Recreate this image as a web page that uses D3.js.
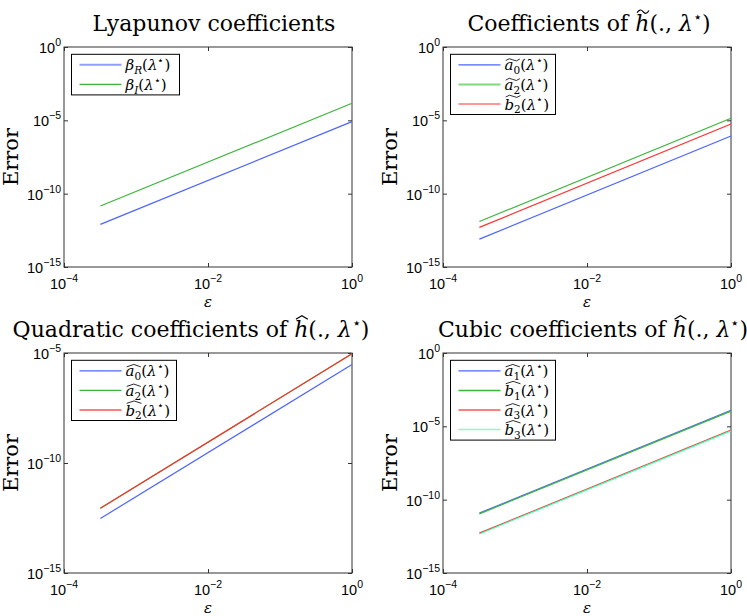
<!DOCTYPE html>
<html><head><meta charset="utf-8">
<script src="https://cdn.jsdelivr.net/npm/d3@7"></script>
<style>body{margin:0;background:#fff} svg{display:block}</style>
</head><body>
<svg id="c" width="747" height="616"></svg>
<script>
// ---------- data ----------
const epsRange   = [3.2e-4, 1];            // first / last epsilon of every curve
const xTicks     = [1e-4, 1e-2, 1e0];
const xTickExp   = ["−4", "−2", "0"];
const yTicksFull = [1e-15, 1e-10, 1e-5, 1e0];
const yTicksFullExp = ["−15", "−10", "−5", "0"];
const yTicksQuad = [1e-15, 1e-10, 1e-5];
const yTicksQuadExp = ["−15", "−10", "−5"];

const lyapBetaR = [8.1e-13, 8.1e-6];
const lyapBetaI = [1.45e-11, 1.45e-4];

const tildeA0 = [8.0e-14, 8.5e-7];
const tildeA2 = [1.26e-12, 1.38e-5];
const tildeB2 = [5.0e-13, 5.6e-6];

const quadA0 = [3.0e-13, 3.0e-6];
const quadA2 = [8.7e-13, 9.3e-6];
const quadB2 = [8.7e-13, 9.3e-6];

const cubicA1 = [1.22e-11, 1.26e-4];
const cubicB1 = [1.07e-11, 1.09e-4];
const cubicA3 = [5.2e-13, 5.5e-6];
const cubicB3 = [4.6e-13, 4.9e-6];

const C_BLUE = "#4c64ff", C_GREEN = "#3cb43c", C_RED = "#ff3030", C_CYAN = "#40ffb0";
const C_LBLUE = "#8f9fff", C_LGREEN = "#7fd97f", C_LRED = "#ff7f7f", C_LCYAN = "#80ffc8";

// ---------- helpers ----------
const svg = d3.select("#c");
const SERIF = "'DejaVu Serif', serif";
const SANS = "'Liberation Sans', Arial, sans-serif";

// rich text: segments {t, i(italic), sub, sup, acc, span, tall}
function rich(g, x, y, segs, fs, anchor) {
  const txt = g.append("text").attr("x", x).attr("y", y)
    .attr("font-family", SERIF).attr("font-size", fs)
    .attr("text-anchor", anchor).attr("fill", "#000");
  let cur = 0;
  segs.forEach(s => {
    const shift = s.sub ? fs * 0.25 : s.sup ? -fs * 0.42 : 0;
    const ts = txt.append("tspan").text(s.t)
      .attr("font-style", s.i ? "italic" : "normal")
      .attr("font-size", (s.sub || s.sup) ? fs * 0.7 : fs);
    if (shift - cur !== 0) ts.attr("dy", shift - cur);
    cur = shift;
  });
  const node = txt.node();
  let idx = 0;
  const starts = segs.map(s => { const v = idx; idx += s.t.length; return v; });
  segs.forEach((s, k) => {
    if (!s.acc) return;
    const last = k + (s.span || 1) - 1;
    const c0 = starts[k], c1 = starts[last] + segs[last].t.length - 1;
    let x0 = node.getStartPositionOfChar(c0).x, x1 = node.getEndPositionOfChar(c1).x;
    x0 += fs * 0.08; x1 -= fs * 0.02;
    const ay = y - fs * (s.tall ? 0.88 : 0.7);
    const w = x1 - x0, m = x0 + w / 2;
    const d = s.acc === "tilde"
      ? `M${x0},${ay + fs*0.05} Q${x0 + w*0.25},${ay - fs*0.17} ${m},${ay} T${x1},${ay - fs*0.05}`
      : `M${x0},${ay + fs*0.07} L${m},${ay - fs*0.09} L${x1},${ay + fs*0.07}`;
    g.append("path").attr("d", d).attr("fill", "none").attr("stroke", "#000")
      .attr("stroke-width", fs * 0.055);
  });
  return txt;
}
const lam = [{t:"(., "}, {t:"λ", i:1}, {t:"⋆", sup:1}, {t:")"}];
const lamL = [{t:"("}, {t:"λ", i:1}, {t:"⋆", sup:1}, {t:")"}];
const lbl = (base, sub, acc) => [{t:base, i:1, acc:acc, span:2, tall: base === "b"}, {t:sub, sub:1}].concat(lamL);

const panels = [
  { left:64, top:47, yMax:1e0, yTicks:yTicksFull, yExp:yTicksFullExp,
    title:[{t:"Lyapunov coefficients"}], titleX:214, legendW:108,
    series:[
      {v:lyapBetaR, c:C_BLUE, lc:C_LBLUE, lw:2, label:[{t:"β", i:1},{t:"R", sub:1, i:1}].concat(lamL)},
      {v:lyapBetaI, c:C_GREEN, lc:C_GREEN, lw:1.2, label:[{t:"β", i:1},{t:"I", sub:1, i:1}].concat(lamL)}
    ]},
  { left:443, top:47, yMax:1e0, yTicks:yTicksFull, yExp:yTicksFullExp,
    title:[{t:"Coefficients of "},{t:"h", i:1, acc:"tilde", tall:1}].concat(lam), titleX:589, legendW:105,
    series:[
      {v:tildeA0, c:C_BLUE, lc:C_BLUE, lw:1.2, label:lbl("a","0","tilde")},
      {v:tildeA2, c:C_GREEN, lc:C_LGREEN, lw:2, label:lbl("a","2","tilde")},
      {v:tildeB2, c:C_RED, lc:C_RED, lw:1.2, label:lbl("b","2","tilde")}
    ]},
  { left:64, top:353, yMax:1e-5, yTicks:yTicksQuad, yExp:yTicksQuadExp,
    title:[{t:"Quadratic coefficients of "},{t:"h", i:1, acc:"hat", tall:1}].concat(lam), titleX:191, legendW:105,
    series:[
      {v:quadA0, c:C_BLUE, lc:C_BLUE, lw:1.2, label:lbl("a","0","hat")},
      {v:quadA2, c:C_GREEN, lc:C_GREEN, lw:1.2, label:lbl("a","2","hat")},
      {v:quadB2, c:C_RED, lc:C_LRED, lw:2, label:lbl("b","2","hat")}
    ]},
  { left:443, top:353, yMax:1e0, yTicks:yTicksFull, yExp:yTicksFullExp,
    title:[{t:"Cubic coefficients of "},{t:"h", i:1, acc:"hat", tall:1}].concat(lam), titleX:593, legendW:105,
    series:[
      {v:cubicA1, c:C_BLUE, lc:C_BLUE, lw:1.2, label:lbl("a","1","hat")},
      {v:cubicB1, c:C_GREEN, lc:C_GREEN, lw:1.5, label:lbl("b","1","hat")},
      {v:cubicA3, c:C_RED, lc:C_LRED, lw:2, label:lbl("a","3","hat")},
      {v:cubicB3, c:C_CYAN, lc:C_LCYAN, lw:1.5, label:lbl("b","3","hat")}
    ]}
];

const W = 288, H = 220;

panels.forEach(p => {
  const g = svg.append("g");
  const x = d3.scaleLog().domain([1e-4, 1]).range([p.left, p.left + W]);
  const y = d3.scaleLog().domain([1e-15, p.yMax]).range([p.top + H, p.top]);

  g.append("rect").attr("x", p.left).attr("y", p.top).attr("width", W).attr("height", H)
    .attr("fill", "#fff").attr("stroke", "#333").attr("stroke-width", 1);

  const tk = 4;
  const mk = (ax) => ax.tickSizeInner(-tk).tickSizeOuter(0).tickFormat(() => "");
  g.append("g").attr("transform", `translate(0,${p.top + H})`).call(mk(d3.axisBottom(x).tickValues(xTicks)));
  g.append("g").attr("transform", `translate(0,${p.top})`).call(mk(d3.axisTop(x).tickValues(xTicks)));
  g.append("g").attr("transform", `translate(${p.left},0)`).call(mk(d3.axisLeft(y).tickValues(p.yTicks)));
  g.append("g").attr("transform", `translate(${p.left + W},0)`).call(mk(d3.axisRight(y).tickValues(p.yTicks)));
  g.selectAll(".domain").remove();
  g.selectAll(".tick line").attr("stroke", "#333");

  xTicks.forEach((t, k) => {
    const tx = g.append("text").attr("x", x(t)).attr("y", p.top + H + 22)
      .attr("font-family", SANS).attr("font-size", 14.5).attr("text-anchor", "middle");
    tx.append("tspan").text("10");
    tx.append("tspan").text(xTickExp[k]).attr("font-size", 10.5).attr("dy", -7);
  });
  p.yTicks.forEach((t, k) => {
    const tx = g.append("text").attr("x", p.left - 3).attr("y", y(t) + 6)
      .attr("font-family", SANS).attr("font-size", 14.5).attr("text-anchor", "end");
    tx.append("tspan").text("10");
    tx.append("tspan").text(p.yExp[k]).attr("font-size", 10.5).attr("dy", -7);
  });

  const line = d3.line().x(d => x(d[0])).y(d => y(d[1]));
  p.series.forEach(s => {
    g.append("path").datum(epsRange.map((e, k) => [e, s.v[k]]))
      .attr("d", line).attr("fill", "none").attr("stroke", s.c).attr("stroke-width", 1.2);
  });

  const n = p.series.length;
  const lx = p.left + 7.5, ly = p.top + 7.3, lh = 21 + (n - 1) * 19.6;
  g.append("rect").attr("x", lx).attr("y", ly).attr("width", p.legendW).attr("height", lh)
    .attr("fill", "#fff").attr("stroke", "#000").attr("stroke-width", 1);
  p.series.forEach((s, k) => {
    const yy = ly + 10.5 + k * 19.6;
    g.append("line").attr("x1", lx + 8).attr("x2", lx + 50).attr("y1", yy).attr("y2", yy)
      .attr("stroke", s.lc).attr("stroke-width", s.lw);
    rich(g, lx + 54, yy + 5.5, s.label, 15, "start");
  });

  rich(g, p.titleX, p.top - 16, p.title, 22, "middle");

  g.append("text").attr("transform", `translate(${p.left - 46},${p.top + H / 2}) rotate(-90)`)
    .attr("text-anchor", "middle").attr("font-family", SERIF).attr("font-size", 21).text("Error");
  g.append("text").attr("x", p.left + W / 2).attr("y", p.top + H + 39.5)
    .attr("text-anchor", "middle").attr("font-family", SERIF).attr("font-style", "italic")
    .attr("font-size", 15).text("ε");
});
</script>
</body></html>
